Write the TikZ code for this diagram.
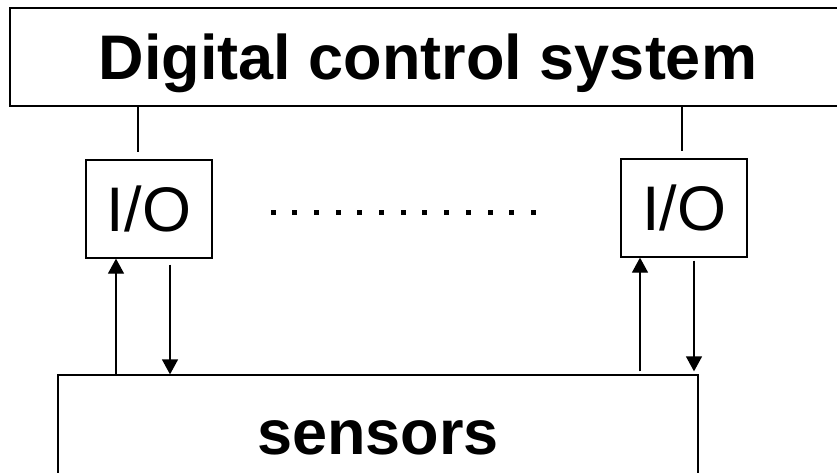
\documentclass[tikz,border=0pt]{standalone}
\usepackage{fontspec}
\setmainfont{Liberation Sans}
\usetikzlibrary{arrows.meta}
\tikzset{
  box/.style={draw,line width=1.3pt,inner sep=0pt,text height=45pt,text depth=1pt},
  link/.style={line width=1.3pt},
  sig/.style={line width=1.3pt,-{Triangle[length=15pt,width=16pt]}}
}
\begin{document}
\begin{tikzpicture}[x=1pt,y=-1pt]
    \useasboundingbox (0,0) rectangle (837,472);
    \node[box,minimum width=836pt,minimum height=98pt,font=\fontsize{63}{70}\selectfont\bfseries] (dcs) at (428,57) {Digital control system};

    \node[box,minimum width=126pt,minimum height=98pt,font=\fontsize{63}{70}\selectfont] (io1) at (149,209) {I/O};
    \node[box,minimum width=126pt,minimum height=98pt,font=\fontsize{63}{70}\selectfont] (io2) at (684,208) {I/O};

    \node[box,minimum width=640pt,minimum height=115pt,font=\fontsize{63}{70}\selectfont\bfseries] (sens) at (378,432.5) {sensors};

    \draw[link,shorten >=7pt] (138,0 |- dcs.south) -- (138,0 |- io1.north);
    \draw[link,shorten >=7pt] (682,0 |- dcs.south) -- (682,0 |- io2.north);

    \foreach \x in {0,...,12} {
      \fill (273+21.7*\x-2.5,209.5) rectangle ++(5,5);
    };

    \draw[sig] (116,0 |- sens.north) -- (116,0 |- io1.south);
    \draw[sig,shorten <=6pt] (170,0 |- io1.south) -- (170,0 |- sens.north);
    \draw[sig,shorten <=3pt] (640,0 |- sens.north) -- (640,0 |- io2.south);
    \draw[sig,shorten <=3pt,shorten >=3pt] (694,0 |- io2.south) -- (694,0 |- sens.north);
\end{tikzpicture}
\end{document}
